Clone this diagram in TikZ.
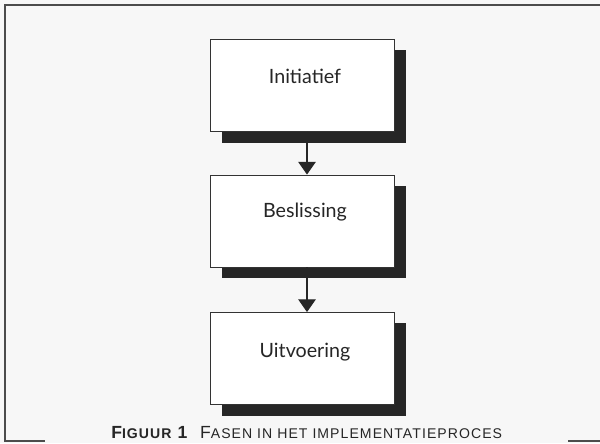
\documentclass[tikz,border=0pt]{standalone}
\usepackage{fontspec}
\usetikzlibrary{arrows.meta,shadows}
\newfontfamily\boxfont{Lato}
\newfontfamily\capfont[LetterSpace=7.5]{Liberation Sans}
\newcommand{\smcap}[1]{{\fontsize{10pt}{12pt}\selectfont #1}}

\begin{document}
\begin{tikzpicture}[x=0.025cm,y=-0.025cm,
  phase/.style={draw=black!80, line width=0.6pt, fill=white,
    minimum width=4.6cm, minimum height=2.3cm,
    drop shadow={shadow xshift=0.3cm, shadow yshift=-0.275cm, fill=black!85, opacity=1}},
  phasetext/.style={font=\boxfont\fontsize{14pt}{16pt}\selectfont, text=black!85, anchor=base, inner sep=0pt},
  flow/.style={draw=black!85, line width=0.8pt, -{Triangle[width=0.44cm,length=0.32cm]}},
  frame/.style={draw=black!70, line width=1pt}]
  % page and frame
  \useasboundingbox (0,0) rectangle (600,443);
  \clip (0,0) rectangle (600,443);
  \fill[black!3] (0,0) rectangle (600,443);
  \draw[frame] (600,5) -- (5,5) -- (5,441) -- (45,441);
  \draw[frame] (568,441) -- (600,441);

  % the three phases
  \node[phase] (init) at (302,85.5) {};
  \node[phase] (besl) at (302,221) {};
  \node[phase] (uitv) at (302,358.5) {};
  \node[phasetext] (inittext) at ([shift={(3,44)}]init.north) {Initiatief};
  \node[phasetext] (besltext) at ([shift={(3,43)}]besl.north) {Beslissing};
  \node[phasetext] (uitvtext) at ([shift={(3,45)}]uitv.north) {Uitvoering};

  % arrows between phases
  \draw[flow] ([xshift=0.125cm]init.south) -- ([xshift=0.125cm]besl.north);
  \draw[flow] ([xshift=0.125cm]besl.south) -- ([xshift=0.125cm]uitv.north);

  % caption at the foot of the frame
  \node[anchor=base west, inner sep=0pt, font=\capfont\fontsize{12.5pt}{14pt}\selectfont, text=black!85] (caption) at (111,438.5)
    {\textbf{F\smcap{IGUUR} 1}\hspace{8pt}F\smcap{ASEN IN HET IMPLEMENTATIEPROCES}};
\end{tikzpicture}
\end{document}
